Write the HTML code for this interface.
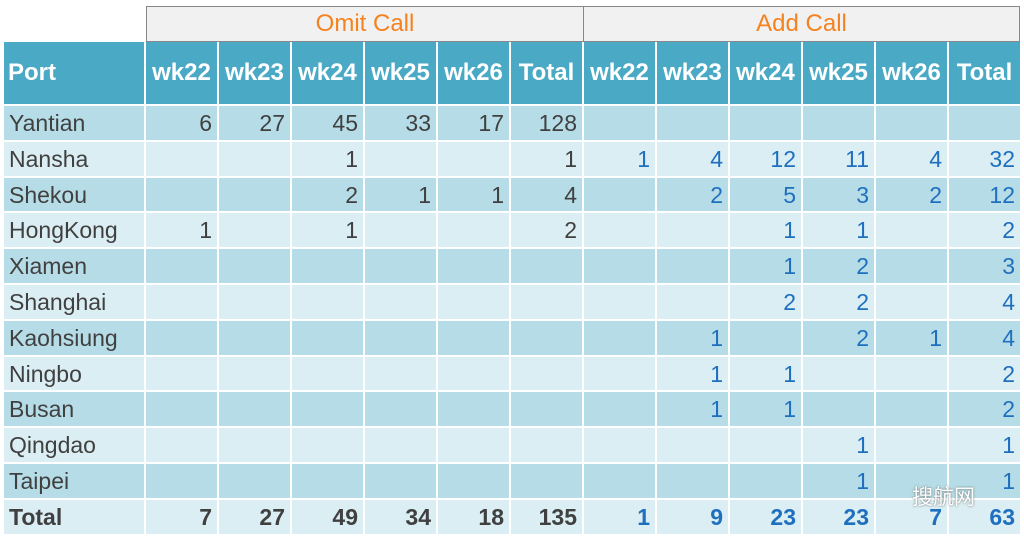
<!DOCTYPE html>
<html><head><meta charset="utf-8"><style>
body{margin:0;width:1024px;height:541px;background:#fff;font-family:"Liberation Sans",Arial,sans-serif;overflow:hidden;position:relative}
.g{position:absolute;left:4px;top:42px;width:1016px;display:grid;grid-template-columns:140px repeat(12,1fr);grid-template-rows:62px repeat(12,33.8px);gap:2px;background:#fff}
.g div{font-size:23px;color:#404040;text-align:right;padding-right:5px;line-height:34px;white-space:nowrap}
.h{background:#4aaac6;color:#fff!important;font-weight:bold;font-size:24px!important;line-height:62px!important;text-align:center!important;padding:0!important}
.h.p{text-align:left!important;padding-left:4px!important}
.o{background:#b6dde7}.e{background:#daeef3}
.g div.l{text-align:left;padding-left:5px}
.g div.b{color:#1f6fbf}
.g div.t{font-weight:bold}
.top{position:absolute;top:6px;background:#f1f1f1;border:1.5px solid #888;color:#f58220;font-size:24px;text-align:center;line-height:34px;box-sizing:border-box;height:36px}
</style></head><body>
<div class="top" style="left:146px;width:438px">Omit Call</div>
<div class="top" style="left:583px;width:437px">Add Call</div>
<div class="g">
<div class="h p">Port</div><div class="h">wk22</div><div class="h">wk23</div><div class="h">wk24</div><div class="h">wk25</div><div class="h">wk26</div><div class="h">Total</div><div class="h">wk22</div><div class="h">wk23</div><div class="h">wk24</div><div class="h">wk25</div><div class="h">wk26</div><div class="h">Total</div>

<div class="o l">Yantian</div><div class="o">6</div><div class="o">27</div><div class="o">45</div><div class="o">33</div><div class="o">17</div><div class="o">128</div><div class="o b"></div><div class="o b"></div><div class="o b"></div><div class="o b"></div><div class="o b"></div><div class="o b"></div>

<div class="e l">Nansha</div><div class="e"></div><div class="e"></div><div class="e">1</div><div class="e"></div><div class="e"></div><div class="e">1</div><div class="e b">1</div><div class="e b">4</div><div class="e b">12</div><div class="e b">11</div><div class="e b">4</div><div class="e b">32</div>

<div class="o l">Shekou</div><div class="o"></div><div class="o"></div><div class="o">2</div><div class="o">1</div><div class="o">1</div><div class="o">4</div><div class="o b"></div><div class="o b">2</div><div class="o b">5</div><div class="o b">3</div><div class="o b">2</div><div class="o b">12</div>

<div class="e l">HongKong</div><div class="e">1</div><div class="e"></div><div class="e">1</div><div class="e"></div><div class="e"></div><div class="e">2</div><div class="e b"></div><div class="e b"></div><div class="e b">1</div><div class="e b">1</div><div class="e b"></div><div class="e b">2</div>

<div class="o l">Xiamen</div><div class="o"></div><div class="o"></div><div class="o"></div><div class="o"></div><div class="o"></div><div class="o"></div><div class="o b"></div><div class="o b"></div><div class="o b">1</div><div class="o b">2</div><div class="o b"></div><div class="o b">3</div>

<div class="e l">Shanghai</div><div class="e"></div><div class="e"></div><div class="e"></div><div class="e"></div><div class="e"></div><div class="e"></div><div class="e b"></div><div class="e b"></div><div class="e b">2</div><div class="e b">2</div><div class="e b"></div><div class="e b">4</div>

<div class="o l">Kaohsiung</div><div class="o"></div><div class="o"></div><div class="o"></div><div class="o"></div><div class="o"></div><div class="o"></div><div class="o b"></div><div class="o b">1</div><div class="o b"></div><div class="o b">2</div><div class="o b">1</div><div class="o b">4</div>

<div class="e l">Ningbo</div><div class="e"></div><div class="e"></div><div class="e"></div><div class="e"></div><div class="e"></div><div class="e"></div><div class="e b"></div><div class="e b">1</div><div class="e b">1</div><div class="e b"></div><div class="e b"></div><div class="e b">2</div>

<div class="o l">Busan</div><div class="o"></div><div class="o"></div><div class="o"></div><div class="o"></div><div class="o"></div><div class="o"></div><div class="o b"></div><div class="o b">1</div><div class="o b">1</div><div class="o b"></div><div class="o b"></div><div class="o b">2</div>

<div class="e l">Qingdao</div><div class="e"></div><div class="e"></div><div class="e"></div><div class="e"></div><div class="e"></div><div class="e"></div><div class="e b"></div><div class="e b"></div><div class="e b"></div><div class="e b">1</div><div class="e b"></div><div class="e b">1</div>

<div class="o l">Taipei</div><div class="o"></div><div class="o"></div><div class="o"></div><div class="o"></div><div class="o"></div><div class="o"></div><div class="o b"></div><div class="o b"></div><div class="o b"></div><div class="o b">1</div><div class="o b"></div><div class="o b">1</div>

<div class="e l t">Total</div><div class="e t">7</div><div class="e t">27</div><div class="e t">49</div><div class="e t">34</div><div class="e t">18</div><div class="e t">135</div><div class="e b t">1</div><div class="e b t">9</div><div class="e b t">23</div><div class="e b t">23</div><div class="e b t">7</div><div class="e b t">63</div>
</div>
<div style="position:absolute;left:912px;top:481px;font-family:'Noto Sans CJK SC',sans-serif;font-size:21px;color:#fff;text-shadow:0 0 2px #666">搜航网</div>
</body></html>
